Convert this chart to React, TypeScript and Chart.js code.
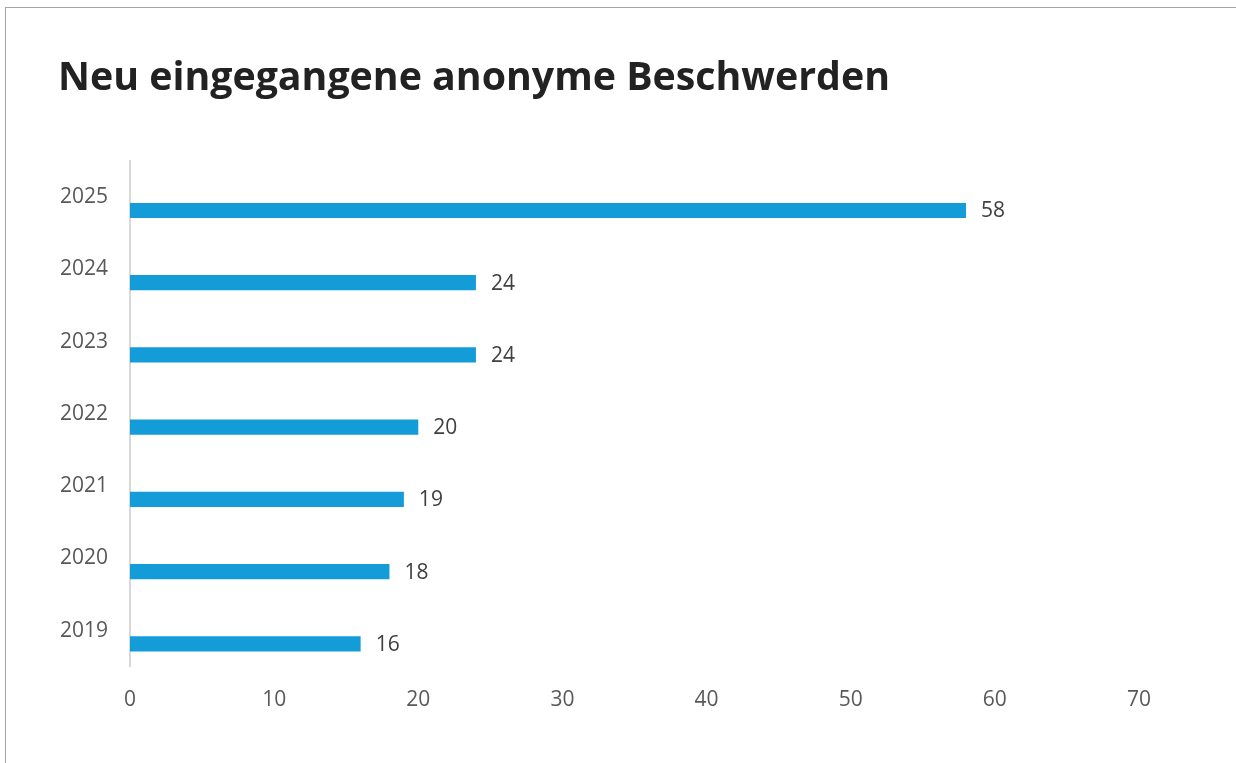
import React, { useEffect, useRef } from "react";
import { Chart, registerables } from "chart.js";

Chart.register(...registerables);

const title = "Neu eingegangene anonyme Beschwerden";
const years = ["2025", "2024", "2023", "2022", "2021", "2020", "2019"];
const complaints = [58, 24, 24, 20, 19, 18, 16];
const spacer = [null, null, null, null, null, null, null];
const xTicksMin = 0;
const xTicksMax = 70;
const xTickStep = 10;

const FONT = "'Open Sans', sans-serif";

const valueLabels = {
  id: "valueLabels",
  afterDatasetsDraw(chart: any) {
    const ctx = chart.ctx;
    const meta = chart.getDatasetMeta(1);
    ctx.save();
    ctx.font = `21px ${FONT}`;
    ctx.fillStyle = "#404040";
    ctx.textAlign = "left";
    ctx.textBaseline = "middle";
    meta.data.forEach((bar: any, i: number) => {
      const v = chart.data.datasets[1].data[i];
      ctx.fillText(String(v), bar.x + 15, bar.y + 1);
    });
    ctx.restore();
  },
};

export default function App() {
  const ref = useRef<HTMLCanvasElement | null>(null);
  useEffect(() => {
    document.body.style.margin = "0";
    document.body.style.overflow = "hidden";
    const chart = new Chart(ref.current as HTMLCanvasElement, {
      type: "bar",
      data: {
        labels: years,
        datasets: [
          { data: spacer as any, backgroundColor: "transparent" },
          { data: complaints, backgroundColor: "#149CD8" },
        ],
      },
      options: {
        indexAxis: "y",
        animation: false,
        responsive: true,
        maintainAspectRatio: false,
        devicePixelRatio: 1,
        datasets: { bar: { categoryPercentage: 0.73, barPercentage: 0.575 } },
        layout: { padding: { left: 58, right: 97, top: 0, bottom: 29 } },
        plugins: {
          legend: { display: false },
          tooltip: { enabled: false },
          title: {
            display: true,
            text: title,
            align: "start",
            color: "#222222",
            font: { family: FONT, size: 39.3, weight: "bold" },
            padding: { top: 55, bottom: 59 },
          },
        },
        scales: {
          x: {
            min: xTicksMin,
            max: xTicksMax,
            grid: { display: false, drawTicks: false },
            border: { display: false },
            ticks: {
              stepSize: xTickStep,
              color: "#595959",
              font: { family: FONT, size: 21 },
              padding: 21,
            },
          },
          y: {
            grid: { display: false, drawTicks: false },
            border: { display: true, color: "#d9d9d9", width: 2 },
            afterFit: (s: any) => {
              s.width = 72;
            },
            ticks: {
              color: "#595959",
              font: { family: FONT, size: 21 },
              padding: 22,
            },
          },
        },
      },
      plugins: [valueLabels],
    });
    return () => chart.destroy();
  }, []);
  return (
    <div>
      <div
        style={{
          position: "fixed",
          left: 5,
          top: 7,
          width: 1400,
          height: 900,
          border: "1px solid #a6a6a6",
          boxSizing: "border-box",
        }}
      />
      <div style={{ position: "fixed", left: 0, top: 0, width: 1236, height: 763 }}>
        <canvas ref={ref} />
      </div>
    </div>
  );
}
